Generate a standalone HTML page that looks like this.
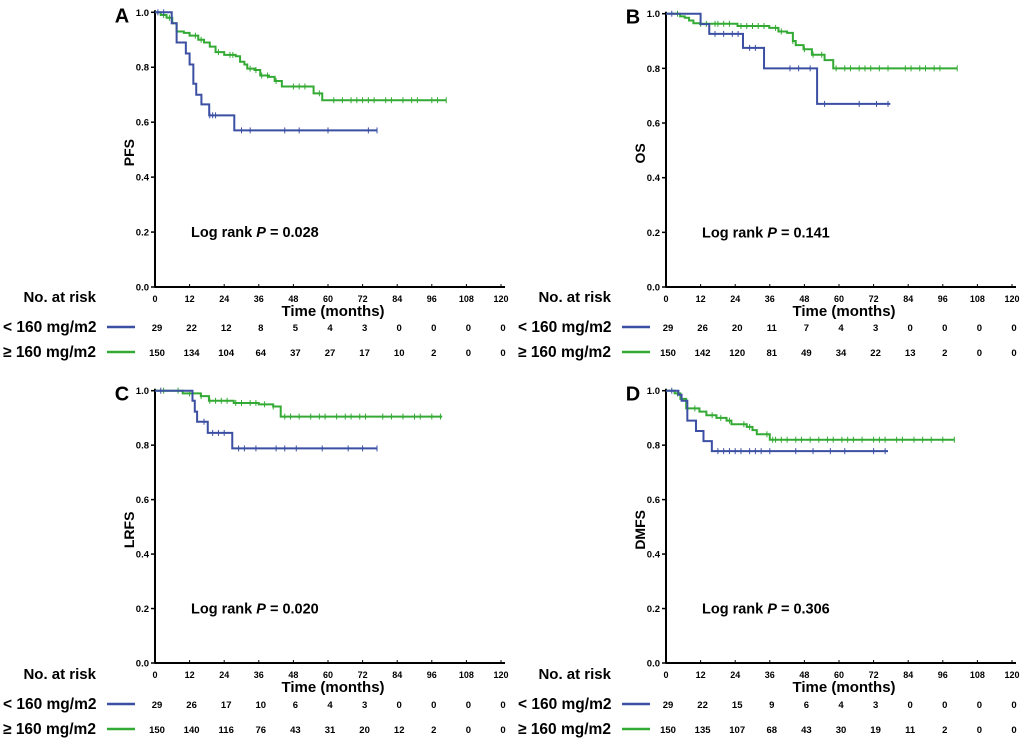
<!DOCTYPE html>
<html><head><meta charset="utf-8">
<style>
html,body{margin:0;padding:0;background:#fff;}
svg{display:block;font-family:"Liberation Sans",Arial,sans-serif;font-weight:bold;}
</style></head>
<body>
<svg id="chart" width="1020" height="740" viewBox="0 0 1020 740"></svg>
<script>
// Panel A (PFS)
const aBlueT=[0,5.8,7.5,10.7,12,13.3,14.3,16.1,18.8,27.5,77];
const aBlueS=[1,0.96,0.89,0.85,0.81,0.74,0.70,0.665,0.625,0.57,0.57];
const aBlueC=[1,3,19,20,21,30,33,45,50,60,74,77];
const aGreenT=[0,2,4,6,7.5,10,12,15,17,19,21,24,28,29.5,31,32,34.5,36.5,39.5,41.5,44,55,58,101];
const aGreenS=[1,0.99,0.98,0.96,0.93,0.925,0.915,0.9,0.89,0.875,0.855,0.845,0.84,0.82,0.81,0.795,0.79,0.77,0.765,0.75,0.73,0.705,0.68,0.68];
const aGreenC=[3,5,14,16,22,26,27,33,35,37,39,42,48,50,52,57,62,65,68,70,72,74,76,80,82,86,89,91,96,98,101];
const aRisk1=[29,22,12,8,5,4,3,0,0,0,0];
const aRisk2=[150,134,104,64,37,27,17,10,2,0,0];
// Panel B (OS)
const bBlueT=[0,12,15,26.7,34,52.4,77.8];
const bBlueS=[1,0.962,0.926,0.875,0.80,0.67,0.67];
const bBlueC=[2,17,20,23,25,29,31,43,46,50,55,67,73,77];
const bGreenT=[0,4.9,6.5,8,9.5,11.8,24.8,35.8,39,42,44,45,47.7,50.6,55,58,101];
const bGreenS=[1,0.99,0.985,0.975,0.965,0.963,0.955,0.948,0.935,0.93,0.9,0.885,0.87,0.85,0.83,0.80,0.80];
const bGreenC=[4,12,14,17,18,20,22,26,28,30,32,34,38,40,44,48,51,54,59,62,64,67,69,71,74,77,83,85,88,90,93,95,101];
const bRisk1=[29,26,20,11,7,4,3,0,0,0,0];
const bRisk2=[150,142,120,81,49,34,22,13,2,0,0];
// Panel C (LRFS)
const cBlueT=[0,13,13.8,14.6,18.3,26.8,77];
const cBlueS=[1,0.963,0.923,0.886,0.845,0.788,0.788];
const cBlueC=[2,17,20,22,24,29,31,35,42,45,49,58,67,72,77];
const cGreenT=[0,9.6,15.9,18.7,27.3,36,41,43.6,99.6];
const cGreenS=[1,0.99,0.98,0.963,0.955,0.95,0.942,0.905,0.905];
const cGreenC=[3,8,12,16,19,21,23,25,28,30,33,35,38,41,45,47,50,54,57,59,63,66,68,71,73,79,82,86,90,92,96,99];
const cRisk1=[29,26,17,10,6,4,3,0,0,0,0];
const cRisk2=[150,140,116,76,43,31,20,12,2,0,0];
// Panel D (DMFS)
const dBlueT=[0,4.3,5.4,7.4,10.4,13,15.9,77];
const dBlueS=[1,0.985,0.963,0.89,0.852,0.815,0.778,0.778];
const dBlueC=[2,18,20,22,24,26,29,31,33,36,45,51,57,62,72,76];
const dGreenT=[0,3,5,7,11.6,14,17.5,21,22.7,28,30,31.5,36,100];
const dGreenS=[1,0.99,0.97,0.935,0.923,0.91,0.90,0.89,0.877,0.867,0.855,0.84,0.82,0.82];
const dGreenC=[4,10,16,19,22,27,29,35,37,38,40,42,45,47,50,53,56,58,61,63,65,68,72,74,76,80,82,86,89,92,96,100];
const dRisk1=[29,22,15,9,6,4,3,0,0,0,0];
const dRisk2=[150,135,107,68,43,30,19,11,2,0,0];

const xTicks=[0,12,24,36,48,60,72,84,96,108,120];
const yTicks=[0,0.2,0.4,0.6,0.8,1.0];
const BLUE="#3b4fa3", GREEN="#33aa33";
const NS="http://www.w3.org/2000/svg";
const svg=document.getElementById('chart');
function mk(tag,attrs,parent,text){const e=document.createElementNS(NS,tag);for(const k in attrs)e.setAttribute(k,attrs[k]);if(text!==undefined)e.textContent=text;(parent||svg).appendChild(e);return e;}

const panels=[
 {id:'a',L:'A',yl:'PFS',p:'0.028',x0:155,y1:12.3,y0:287,bT:aBlueT,bS:aBlueS,bC:aBlueC,gT:aGreenT,gS:aGreenS,gC:aGreenC,r1:aRisk1,r2:aRisk2,lx:3,ly:297},
 {id:'b',L:'B',yl:'OS',p:'0.141',x0:666,y1:13.7,y0:287,bT:bBlueT,bS:bBlueS,bC:bBlueC,gT:bGreenT,gS:bGreenS,gC:bGreenC,r1:bRisk1,r2:bRisk2,lx:518,ly:297},
 {id:'c',L:'C',yl:'LRFS',p:'0.020',x0:155,y1:390.7,y0:663,bT:cBlueT,bS:cBlueS,bC:cBlueC,gT:cGreenT,gS:cGreenS,gC:cGreenC,r1:cRisk1,r2:cRisk2,lx:3,ly:674},
 {id:'d',L:'D',yl:'DMFS',p:'0.306',x0:666,y1:390.7,y0:663,bT:dBlueT,bS:dBlueS,bC:dBlueC,gT:dGreenT,gS:dGreenS,gC:dGreenC,r1:dRisk1,r2:dRisk2,lx:518,ly:674}
];

panels.forEach(P=>{
  const g=mk('g',{});
  
  
  const xs=t=>P.x0+t*(346/120);
  const ys=v=>P.y0-v*(P.y0-P.y1);
  const ax=mk('line',{x1:P.x0,y1:P.y1-2,x2:P.x0,y2:P.y0,stroke:'#000','stroke-width':2},g);
  
  const axx=mk('line',{x1:P.x0,y1:P.y0,x2:xs(120)+4,y2:P.y0,stroke:'#000','stroke-width':2},g);
  
  yTicks.forEach(v=>{
    mk('line',{x1:P.x0-4,y1:ys(v),x2:P.x0,y2:ys(v),stroke:'#000','stroke-width':1.5},g);
    const t=mk('text',{x:P.x0-6,y:ys(v)+3.5,'text-anchor':'end','font-size':9.5},g,v.toFixed(1));
    
  });
  xTicks.forEach(v=>{
    mk('line',{x1:xs(v),y1:P.y0-3,x2:xs(v),y2:P.y0+1,stroke:'#000','stroke-width':1},g);
    const t=mk('text',{x:xs(v),y:P.y0+15,'text-anchor':'middle','font-size':9},g,v);
    
  });
  const xt=mk('text',{x:xs(60)+5,y:P.y0+29,'text-anchor':'middle','font-size':15},g,'Time (months)');
  
  const ytl=mk('text',{x:0,y:0,'text-anchor':'middle','font-size':14,transform:`translate(${P.x0-21},${(P.y0+P.y1)/2+3}) rotate(-90)`},g,P.yl);
  
  const pl=mk('text',{x:P.x0-33,y:P.y1+10,'text-anchor':'middle','font-size':20},g,P.L);
  
  const lr=mk('text',{x:P.x0+36,y:ys(0.2)+5,'font-size':14.5},g);
  
  mk('tspan',{},lr,'Log rank ');mk('tspan',{'font-style':'italic'},lr,'P');mk('tspan',{},lr,' = '+P.p);
  [[P.gT,P.gS,P.gC,GREEN,'green'],[P.bT,P.bS,P.bC,BLUE,'blue']].forEach(([T,S,C,col,nm])=>{
    let d=`M${xs(T[0])},${ys(S[0])}`;
    for(let i=1;i<T.length;i++){d+=` H${xs(T[i])} V${ys(S[i])}`;}
    const path=mk('path',{d:d,fill:'none',stroke:col,'stroke-width':2},g);
    
    C.forEach(c=>{
      let s=S[0];for(let i=0;i<T.length;i++){if(T[i]<=c)s=S[i];}
      const m=mk('line',{x1:xs(c),y1:ys(s)-3,x2:xs(c),y2:ys(s)+3,stroke:col,'stroke-width':1},g);
      
    });
  });
  const nr=mk('text',{x:P.lx+93,y:P.ly+5,'text-anchor':'end','font-size':15},g,'No. at risk');
  
  const rows=[[P.r1,'< 160 mg/m2',BLUE,30,'low']];
  rows.push([P.r2,'\u2265 160 mg/m2',GREEN,55,'high']);
  rows.forEach(([R,lab,col,dy,nm])=>{
    const tl=mk('text',{x:P.lx,y:P.ly+dy+5,'font-size':15.5},g,lab);
    
    const ln=mk('line',{x1:P.lx+104,y1:P.ly+dy,x2:P.lx+132,y2:P.ly+dy,stroke:col,'stroke-width':2.5},g);
    
    R.forEach((n,i)=>{
      const t=mk('text',{x:xs(xTicks[i])+2,y:P.ly+dy+4,'text-anchor':'middle','font-size':9.5},g,n);
      
    });
  });
});
</script>
</body></html>
